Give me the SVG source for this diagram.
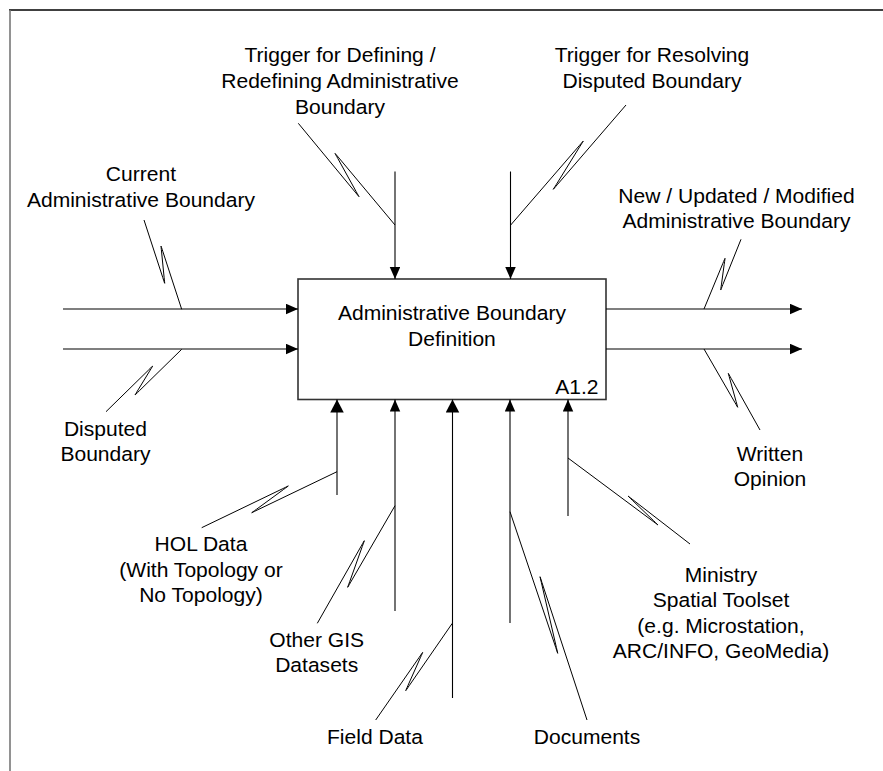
<svg xmlns="http://www.w3.org/2000/svg" width="883" height="771" viewBox="0 0 883 771">
  <style>
    .lbl { font-family: "Liberation Sans", Arial, sans-serif; font-size: 19.5px; fill: #000; text-anchor: middle; transform-box: fill-box; transform-origin: center; transform: scaleX(1.08); }
    .end { text-anchor: end; }
    .box { fill: #fff; stroke: #333; stroke-width: 1.6; }
    .wire { fill: none; stroke: #000; stroke-width: 1.1; }
    .sq { fill: none; stroke: #000; stroke-width: 1; stroke-linejoin: round; }
    .frame { stroke: #000; stroke-width: 1.4; }
    .frame-side { stroke: #777; stroke-width: 1.6; }
  </style>
  <defs>
    <marker id="ah" markerUnits="userSpaceOnUse" markerWidth="12" markerHeight="11" refX="12" refY="5.25" orient="auto">
      <path d="M0,0 L12,5.25 L0,10.5 z" fill="#000"/>
    </marker>
    <marker id="ahL" markerUnits="userSpaceOnUse" markerWidth="13" markerHeight="14" refX="13" refY="6.75" orient="auto">
      <path d="M0,0 L13,6.75 L0,13.5 z" fill="#000"/>
    </marker>
  </defs>

  <rect width="883" height="771" fill="#fff"/>

  <!-- page frame -->
  <g id="frame">
    <line class="frame" x1="9" y1="10" x2="883" y2="10"/>
    <line class="frame-side" x1="10" y1="10" x2="10" y2="771"/>
  </g>

  <!-- activity box -->
  <g id="a12">
    <rect class="box" x="298" y="279" width="308" height="120.5"/>
    <text class="lbl"><tspan x="452" y="320">Administrative Boundary</tspan><tspan x="452" y="345.7">Definition</tspan></text>
    <text class="lbl end" x="597" y="394">A1.2</text>
  </g>

  <!-- arrows and squiggles -->
  <g id="connectors">
    <!-- inputs -->
    <path class="wire" d="M63,309 H298" marker-end="url(#ah)"/>
    <path class="wire" d="M63,349 H298" marker-end="url(#ah)"/>
    <!-- outputs -->
    <path class="wire" d="M606,309 H802" marker-end="url(#ah)"/>
    <path class="wire" d="M606,349 H802" marker-end="url(#ah)"/>
    <!-- controls -->
    <path class="wire" d="M395,171.5 V279" marker-end="url(#ah)"/>
    <path class="wire" d="M510.5,171.5 V279" marker-end="url(#ah)"/>
    <!-- mechanisms -->
    <path class="wire" d="M337,495 V399.5" marker-end="url(#ahL)"/>
    <path class="wire" d="M395,611 V399.5" marker-end="url(#ah)"/>
    <path class="wire" d="M452.5,698 V399.5" marker-end="url(#ahL)"/>
    <path class="wire" d="M510,623 V399.5" marker-end="url(#ah)"/>
    <path class="wire" d="M568,516 V399.5" marker-end="url(#ah)"/>

    <!-- squiggles tying labels to arrows (Z with rounded loop tips) -->
    <path class="sq" d="M144,220 L162.8,277.6 C165.3,285.2 164.9,285.3 164.1,277.3 L161.6,252 C160.8,244 160.4,244.1 162.9,251.7 L181.7,309.3"/>
    <path class="sq" d="M181.7,349.3 L139.3,390.8 C133.6,396.4 134,396.7 138.1,389.9 L149.6,371.1 C153.7,364.3 154.1,364.6 148.4,370.2 L106,411.7"/>
    <path class="sq" d="M298.3,123.3 L355.2,192.1 C360.3,198.2 360,198.5 356.1,191.5 L337.9,158.6 C334,151.6 333.7,151.8 338.9,157.9 L395,225"/>
    <path class="sq" d="M626,105 L557.2,184.8 C552,190.8 552.2,191 556.5,184.2 L580.1,146.1 C584.4,139.3 584.6,139.5 579.4,145.5 L510.7,225"/>
    <path class="sq" d="M741,239.3 L722.9,284.4 C720,291.9 720.4,292 721.5,284.1 L724.2,264.3 C725.3,256.3 725.8,256.5 722.7,263.8 L704,309"/>
    <path class="sq" d="M704,349 L734.7,402.1 C738.7,409 738.2,409.2 736.1,401.5 L729.9,379.1 C727.8,371.4 727.3,371.6 731.2,378.5 L760,430"/>
    <path class="sq" d="M337,471.7 L257.1,510.1 C249.9,513.6 250.1,513.9 256.6,509.2 L283.5,489.5 C289.9,484.8 290.1,485.1 282.9,488.6 L201.7,527.7"/>
    <path class="sq" d="M395,505.7 L350.7,582.1 C346.7,589 347,589.2 349.7,581.7 L362.3,546.4 C365,538.8 365.3,539 361.3,545.9 L317.3,623.3"/>
    <path class="sq" d="M452.3,623.3 L409.1,685.8 C404.6,692.4 404.9,692.5 408.1,685.2 L420.3,657.8 C423.5,650.5 423.8,650.7 419.3,657.2 L375.7,720"/>
    <path class="sq" d="M510,511.7 L555.8,647.6 C558.3,655.2 558.2,655.3 556.4,647.5 L541.4,582.6 C539.6,574.8 539.4,574.8 541.9,582.4 L587,720"/>
    <path class="sq" d="M568,458 L653.2,521.4 C659.6,526.2 659.4,526.4 653.7,520.8 L632.3,500.2 C626.6,494.6 626.4,494.8 632.8,499.7 L690,544"/>
  </g>

  <!-- arrow labels -->
  <g id="lbl-trigger-define">
    <text class="lbl"><tspan x="340" y="62.5">Trigger for Defining /</tspan><tspan x="340" y="88.2">Redefining Administrative</tspan><tspan x="340" y="114">Boundary</tspan></text>
  </g>
  <g id="lbl-trigger-resolve">
    <text class="lbl"><tspan x="652" y="62.5">Trigger for Resolving</tspan><tspan x="652" y="88.2">Disputed Boundary</tspan></text>
  </g>
  <g id="lbl-current">
    <text class="lbl"><tspan x="141" y="181">Current</tspan><tspan x="141" y="206.7">Administrative Boundary</tspan></text>
  </g>
  <g id="lbl-disputed">
    <text class="lbl"><tspan x="105.5" y="435.7">Disputed</tspan><tspan x="105.5" y="461.2">Boundary</tspan></text>
  </g>
  <g id="lbl-new">
    <text class="lbl"><tspan x="736.5" y="203">New / Updated / Modified</tspan><tspan x="736.5" y="228.5">Administrative Boundary</tspan></text>
  </g>
  <g id="lbl-written">
    <text class="lbl"><tspan x="770" y="461">Written</tspan><tspan x="770" y="486.5">Opinion</tspan></text>
  </g>
  <g id="lbl-hol">
    <text class="lbl"><tspan x="201" y="551">HOL Data</tspan><tspan x="201" y="576.7">(With Topology or</tspan><tspan x="201" y="602.5">No Topology)</tspan></text>
  </g>
  <g id="lbl-gis">
    <text class="lbl"><tspan x="316.7" y="647">Other GIS</tspan><tspan x="316.7" y="672.5">Datasets</tspan></text>
  </g>
  <g id="lbl-field">
    <text class="lbl" x="375" y="744">Field Data</text>
  </g>
  <g id="lbl-documents">
    <text class="lbl" x="587" y="744">Documents</text>
  </g>
  <g id="lbl-toolset">
    <text class="lbl"><tspan x="721" y="582">Ministry</tspan><tspan x="721" y="607.5">Spatial Toolset</tspan><tspan x="721" y="633">(e.g. Microstation,</tspan><tspan x="721" y="658.5">ARC/INFO, GeoMedia)</tspan></text>
  </g>
</svg>
